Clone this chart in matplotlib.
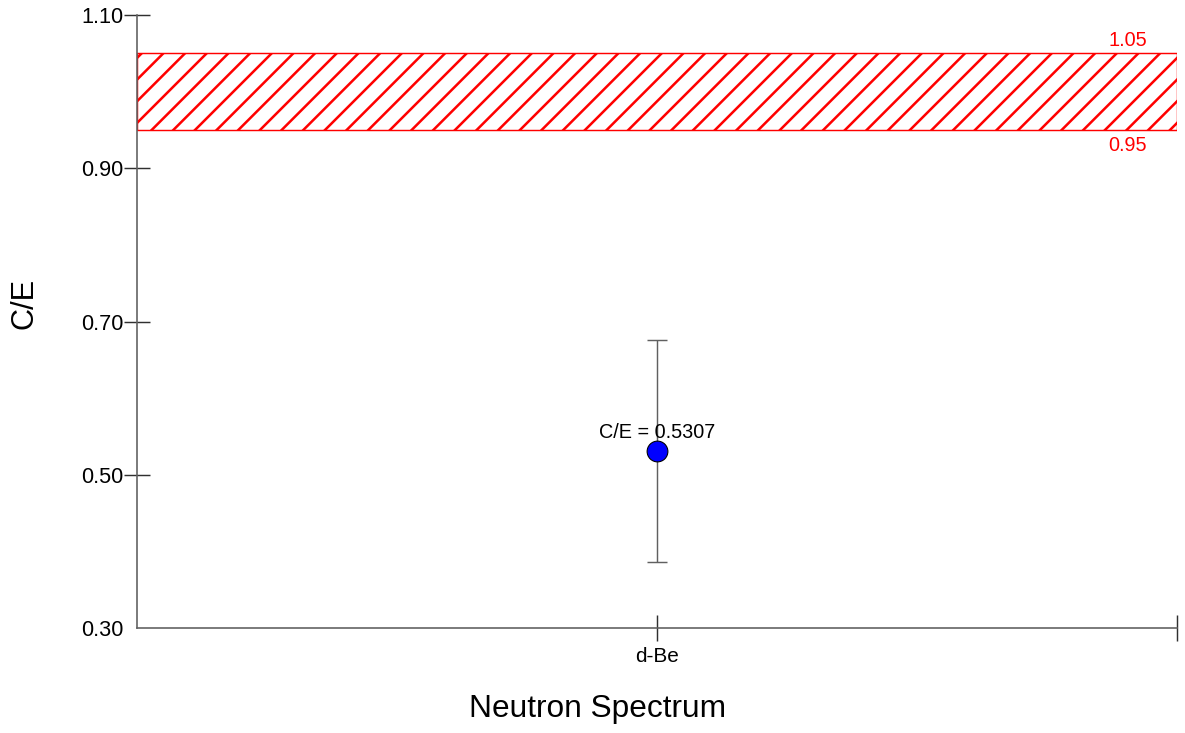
import matplotlib
matplotlib.use("Agg")
import matplotlib.pyplot as plt

plt.rcParams['font.family'] = ['Liberation Sans', 'DejaVu Sans']
plt.rcParams['hatch.linewidth'] = 1.4

# measured ratio and its uncertainty
spectra = ['d-Be']
spectrum_pos = [1]
ce_values = [0.5307]
ce_errors = [0.145]

# acceptance band
band_low = 0.95
band_high = 1.05

y_ticks = [0.30, 0.50, 0.70, 0.90, 1.10]
x_ticks = [0, 1, 2]
x_tick_labels = ['', 'd-Be', '']

DPI = 130
AXIS_GREY = '#606060'


def plot_ce():
    fig = plt.figure(figsize=(1185 / DPI, 733 / DPI), dpi=DPI)
    ax = fig.add_axes([137 / 1185, 105 / 733, 1040 / 1185, 613 / 733])

    ax.axhspan(band_low, band_high, facecolor='none', edgecolor='#ff0000',
               hatch='//', linewidth=0.8, zorder=1)
    ax.text(1.905, band_high + 0.004, f'{band_high:.2f}', color='#ff0000',
            fontsize=11, ha='center', va='bottom')
    ax.text(1.905, band_low - 0.008, f'{band_low:.2f}', color='#ff0000',
            fontsize=11, ha='center', va='top')

    ax.errorbar(spectrum_pos, ce_values, yerr=ce_errors, fmt='none',
                ecolor=AXIS_GREY, elinewidth=0.8, capsize=5.8, capthick=0.8,
                zorder=2)
    ax.plot(spectrum_pos, ce_values, 'o', markersize=11.5,
            markerfacecolor='#0000ff', markeredgecolor='black',
            markeredgewidth=0.6, zorder=3)
    for x, v in zip(spectrum_pos, ce_values):
        ax.annotate(f'C/E = {v:.4f}', (x, v), xytext=(0, 7.5),
                    textcoords='offset points', ha='center', va='baseline',
                    fontsize=11)

    ax.set_xlim(0, 2)
    ax.set_ylim(0.30, 1.10)
    ax.set_xticks(x_ticks)
    ax.set_xticklabels(x_tick_labels)
    ax.set_yticks(y_ticks)
    ax.set_yticklabels([f'{t:.2f}' for t in y_ticks])

    for side in ('top', 'right'):
        ax.spines[side].set_visible(False)
    for side in ('left', 'bottom'):
        ax.spines[side].set_color(AXIS_GREY)
        ax.spines[side].set_linewidth(0.9)

    ax.tick_params(axis='both', direction='inout', length=14.5, width=0.8,
                   color='#303030')
    ax.tick_params(axis='y', labelsize=12, pad=0.3)
    ax.tick_params(axis='x', labelsize=11.5, pad=3.5)
    ax.yaxis.get_major_ticks()[0].tick1line.set_visible(False)
    ax.xaxis.get_major_ticks()[0].tick1line.set_visible(False)

    ax.set_ylabel('C/E', fontsize=17, va='center')
    ax.yaxis.set_label_coords(-0.108, 0.529)
    ax.set_xlabel('Neutron Spectrum', fontsize=17.5, va='baseline')
    ax.xaxis.set_label_coords(0.443, -0.145)

    fig.savefig('out.png', dpi=DPI)
    plt.close(fig)


if __name__ == '__main__':
    plot_ce()
